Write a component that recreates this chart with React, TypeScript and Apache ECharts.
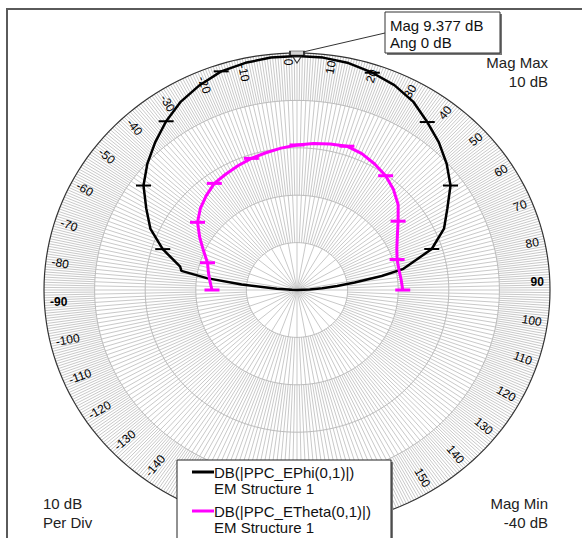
import React, { useEffect, useRef } from "react";
import * as echarts from "echarts";

// ---- scale ----
const MAG_MIN = -40;
const MAG_MAX = 10;
const DB_PER_DIV = 10;
const ringLevels = [-30, -20, -10, 0, 10];

// ---- angle tick labels (deg) ----
const angleLabels = [
  -170, -160, -150, -140, -130, -120, -110, -100, -90, -80, -70, -60, -50, -40, -30, -20, -10,
  0, 10, 20, 30, 40, 50, 60, 70, 80, 90, 100, 110, 120, 130, 140, 150, 160, 170, 180,
];

// ---- DB(|PPC_EPhi(0,1)|) ----
const ephiAngles = [
  -90, -88, -86, -84, -82, -80, -78, -72, -66, -60, -54, -48, -42, -36, -30, -24, -18, -12, -6,
  0, 6, 12, 18, 24, 30, 36, 42, 48, 54, 60, 66, 72, 78, 80, 82, 84, 86, 88, 90,
];
const ephiMag = [
  -40, -39, -36, -29, -22, -16.8, -16.4, -12.1, -8.3, -5.6, -2.5, -0.2, 1.9, 4.0, 5.9, 7.3, 8.5, 9.0, 9.3,
  9.377, 9.3, 8.95, 8.2, 7.3, 5.9, 3.8, 1.9, -0.2, -2.5, -5.7, -8.2, -12.0, -18.5, -23, -28.5, -32, -35, -37.5, -40,
];

// ---- DB(|PPC_ETheta(0,1)|) ----
const ethetaAngles = [
  -90, -84, -78, -72, -66, -60, -54, -48, -42, -36, -30, -24, -18, -12, -6,
  0, 6, 12, 18, 24, 30, 36, 42, 48, 54, 60, 66, 72, 78, 84, 90,
];
const ethetaMag = [
  -23.2, -22.7, -22.1, -21.4, -19.8, -17.8, -15.7, -14.3, -13.2, -12.2, -11.8, -11.3, -10.8, -10.4, -9.9,
  -9.4, -8.9, -8.5, -8.1, -8.5, -9.3, -10.2, -11.5, -13.1, -15.3, -17.1, -18.4, -19.2, -19.4, -19.3, -19.1,
];

const markerEvery = 18;
const markerAngle = 0;
const markerMag = 9.377;

// ---- helpers ----
const R = MAG_MAX - MAG_MIN;
const rad = (d: number) => (d * Math.PI) / 180;
function toXY(angle: number, mag: number): [number, number] {
  const r = Math.max(0, Math.min(mag, MAG_MAX) - MAG_MIN);
  return [r * Math.sin(rad(angle)), r * Math.cos(rad(angle))];
}
function curve(angles: number[], mags: number[]) {
  return angles.map((a, i) => toXY(a, mags[i]));
}
function markers(angles: number[], mags: number[]) {
  return angles
    .map((a, i) => ({ a, m: mags[i] }))
    .filter((p) => p.a % markerEvery === 0)
    .map((p) => toXY(p.a, p.m));
}

// spoke grid: finer spacing farther out
const spokeStartLevels = [-40, -30, -20, -10, 0];
const spokeStepUnits = [16, 4, 2, 2, 1]; // in units of 0.625 deg
const SPOKE_UNIT = 0.625;
const spokeData: [number, number][] = [];
for (let i = 0; i < 360 / SPOKE_UNIT; i++) {
  let k = 0;
  while (i % spokeStepUnits[k] !== 0) k++;
  spokeData.push([i * SPOKE_UNIT - 180, spokeStartLevels[k] - MAG_MIN]);
}

const FONT = '"Liberation Sans", Arial, sans-serif';

export default function App() {
  const ref = useRef<HTMLDivElement>(null);
  useEffect(() => {
    if (!ref.current) return;
    const chart = echarts.init(ref.current, null, { renderer: "svg" });
    const LABEL_R = 48.8;
    const option: any = {
      animation: false,
      backgroundColor: "#ffffff",
      grid: { left: 44, top: 53, width: 506, height: 474 },
      xAxis: { type: "value", min: -R, max: R, show: false },
      yAxis: { type: "value", min: -R, max: R, show: false },
      series: [
        {
          type: "custom",
          name: "spokes",
          silent: true,
          z: 1,
          data: spokeData,
          renderItem: (_p: any, api: any) => {
            const a = rad(api.value(0));
            const r0 = api.value(1);
            const p0 = api.coord([r0 * Math.sin(a), r0 * Math.cos(a)]);
            const p1 = api.coord([R * Math.sin(a), R * Math.cos(a)]);
            return {
              type: "line",
              shape: { x1: p0[0], y1: p0[1], x2: p1[0], y2: p1[1] },
              style: { stroke: "#c9c9c9", lineWidth: 1 },
            };
          },
        },
        {
          type: "custom",
          name: "rings",
          silent: true,
          z: 2,
          data: ringLevels.map((l) => [l - MAG_MIN, 0]),
          renderItem: (_p: any, api: any) => {
            const r = api.value(0);
            const pts: number[][] = [];
            for (let d = 0; d <= 360; d += 2) {
              pts.push(api.coord([r * Math.sin(rad(d)), r * Math.cos(rad(d))]));
            }
            const outer = r >= R;
            return {
              type: "polyline",
              shape: { points: pts },
              style: { stroke: outer ? "#333" : "#bcbcbc", lineWidth: outer ? 1.2 : 1, fill: "none" },
            };
          },
        },
        {
          type: "custom",
          name: "angleLabels",
          silent: true,
          z: 3,
          data: angleLabels.map((a) => [a, 0]),
          renderItem: (_p: any, api: any) => {
            const a = api.value(0);
            const ar = rad(a);
            const p = api.coord([LABEL_R * Math.sin(ar), LABEL_R * Math.cos(ar)]);
            const right = a >= 0;
            const d = right ? 2 : 6;
            const x = p[0] - d * Math.cos(ar);
            const y = p[1] - d * Math.sin(ar);
            const rot = rad(right ? 90 - a : -(90 + a));
            return {
              type: "text",
              x,
              y,
              rotation: rot,
              style: {
                text: String(a),
                align: right ? "right" : "left",
                verticalAlign: right ? "bottom" : "top",
                font: `${Math.abs(a) === 90 ? "bold " : ""}12px ${FONT}`,
                fill: "#000",
              },
            };
          },
        },
        {
          type: "line",
          name: "DB(|PPC_EPhi(0,1)|)",
          z: 5,
          data: curve(ephiAngles, ephiMag),
          showSymbol: false,
          symbol: "none",
          lineStyle: { color: "#000", width: 2.5 },
        },
        {
          type: "scatter",
          z: 6,
          data: markers(ephiAngles, ephiMag),
          symbol: "rect",
          symbolSize: [15, 2],
          itemStyle: { color: "#000", opacity: 1 },
        },
        {
          type: "line",
          name: "DB(|PPC_ETheta(0,1)|)",
          z: 5,
          data: curve(ethetaAngles, ethetaMag),
          showSymbol: false,
          symbol: "none",
          lineStyle: { color: "#ff00ff", width: 3 },
        },
        {
          type: "scatter",
          z: 6,
          data: markers(ethetaAngles, ethetaMag),
          symbol: "rect",
          symbolSize: [15, 3],
          itemStyle: { color: "#ff00ff", opacity: 1 },
        },
        {
          type: "scatter",
          z: 7,
          data: [toXY(markerAngle, markerMag)],
          symbol: "rect",
          symbolSize: [14, 4],
          symbolOffset: [0, -3],
          itemStyle: { color: "#d4d4d4", borderColor: "#333", borderWidth: 1, opacity: 1 },
        },
        {
          type: "scatter",
          z: 7,
          data: [toXY(markerAngle, markerMag)],
          symbol: "triangle",
          symbolRotate: 180,
          symbolSize: [8, 6],
          symbolOffset: [0, 4],
          itemStyle: { color: "#fff", borderColor: "#333", borderWidth: 1, opacity: 1 },
        },
      ],
      graphic: [
        {
          type: "rect",
          z: 100,
          silent: true,
          shape: { x: 7, y: 9, width: 700, height: 700 },
          style: { fill: "none", stroke: "#5a5a5a", lineWidth: 2 },
        },
        {
          type: "line",
          z: 100,
          shape: { x1: 303, y1: 52, x2: 385, y2: 33 },
          style: { stroke: "#333", lineWidth: 1 },
        },
        { type: "rect", z: 100, shape: { x: 387, y: 14, width: 115, height: 41 }, style: { fill: "#777" } },
        {
          type: "rect",
          z: 100,
          shape: { x: 385, y: 12, width: 115, height: 41 },
          style: { fill: "#fff", stroke: "#333", lineWidth: 1 },
        },
        {
          type: "text",
          z: 101,
          x: 390,
          y: 25,
          style: { text: `Mag ${markerMag} dB`, font: `15px ${FONT}`, fill: "#111", verticalAlign: "middle" },
        },
        {
          type: "text",
          z: 101,
          x: 390,
          y: 42,
          style: { text: `Ang ${markerAngle} dB`, font: `15px ${FONT}`, fill: "#111", verticalAlign: "middle" },
        },
        {
          type: "text",
          z: 100,
          x: 548,
          y: 62,
          style: { text: "Mag Max", font: `15px ${FONT}`, fill: "#222", align: "right", verticalAlign: "middle" },
        },
        {
          type: "text",
          z: 100,
          x: 548,
          y: 81,
          style: { text: `${MAG_MAX} dB`, font: `15px ${FONT}`, fill: "#222", align: "right", verticalAlign: "middle" },
        },
        {
          type: "text",
          z: 100,
          x: 548,
          y: 503,
          style: { text: "Mag Min", font: `15px ${FONT}`, fill: "#222", align: "right", verticalAlign: "middle" },
        },
        {
          type: "text",
          z: 100,
          x: 548,
          y: 522,
          style: { text: `${MAG_MIN} dB`, font: `15px ${FONT}`, fill: "#222", align: "right", verticalAlign: "middle" },
        },
        {
          type: "text",
          z: 100,
          x: 43,
          y: 503,
          style: { text: `${DB_PER_DIV} dB`, font: `15px ${FONT}`, fill: "#222", verticalAlign: "middle" },
        },
        {
          type: "text",
          z: 100,
          x: 43,
          y: 522,
          style: { text: "Per Div", font: `15px ${FONT}`, fill: "#222", verticalAlign: "middle" },
        },
        { type: "rect", z: 100, shape: { x: 179, y: 462, width: 214, height: 90 }, style: { fill: "#777" } },
        {
          type: "rect",
          z: 100,
          shape: { x: 177, y: 460, width: 214, height: 90 },
          style: { fill: "#fff", stroke: "#222", lineWidth: 1 },
        },
        { type: "line", z: 101, shape: { x1: 192, y1: 472, x2: 214, y2: 472 }, style: { stroke: "#000", lineWidth: 3 } },
        {
          type: "text",
          z: 101,
          x: 214,
          y: 472,
          style: { text: "DB(|PPC_EPhi(0,1)|)", font: `15px ${FONT}`, fill: "#111", verticalAlign: "middle" },
        },
        {
          type: "text",
          z: 101,
          x: 214,
          y: 488,
          style: { text: "EM Structure 1", font: `15px ${FONT}`, fill: "#111", verticalAlign: "middle" },
        },
        { type: "line", z: 101, shape: { x1: 192, y1: 511, x2: 214, y2: 511 }, style: { stroke: "#ff00ff", lineWidth: 3 } },
        {
          type: "text",
          z: 101,
          x: 214,
          y: 511,
          style: { text: "DB(|PPC_ETheta(0,1)|)", font: `15px ${FONT}`, fill: "#111", verticalAlign: "middle" },
        },
        {
          type: "text",
          z: 101,
          x: 214,
          y: 527,
          style: { text: "EM Structure 1", font: `15px ${FONT}`, fill: "#111", verticalAlign: "middle" },
        },
      ],
    };
    chart.setOption(option);
    return () => chart.dispose();
  }, []);
  return (
    <div
      ref={ref}
      style={{ position: "absolute", left: 0, top: 0, width: 582, height: 538, background: "#fff" }}
    />
  );
}
